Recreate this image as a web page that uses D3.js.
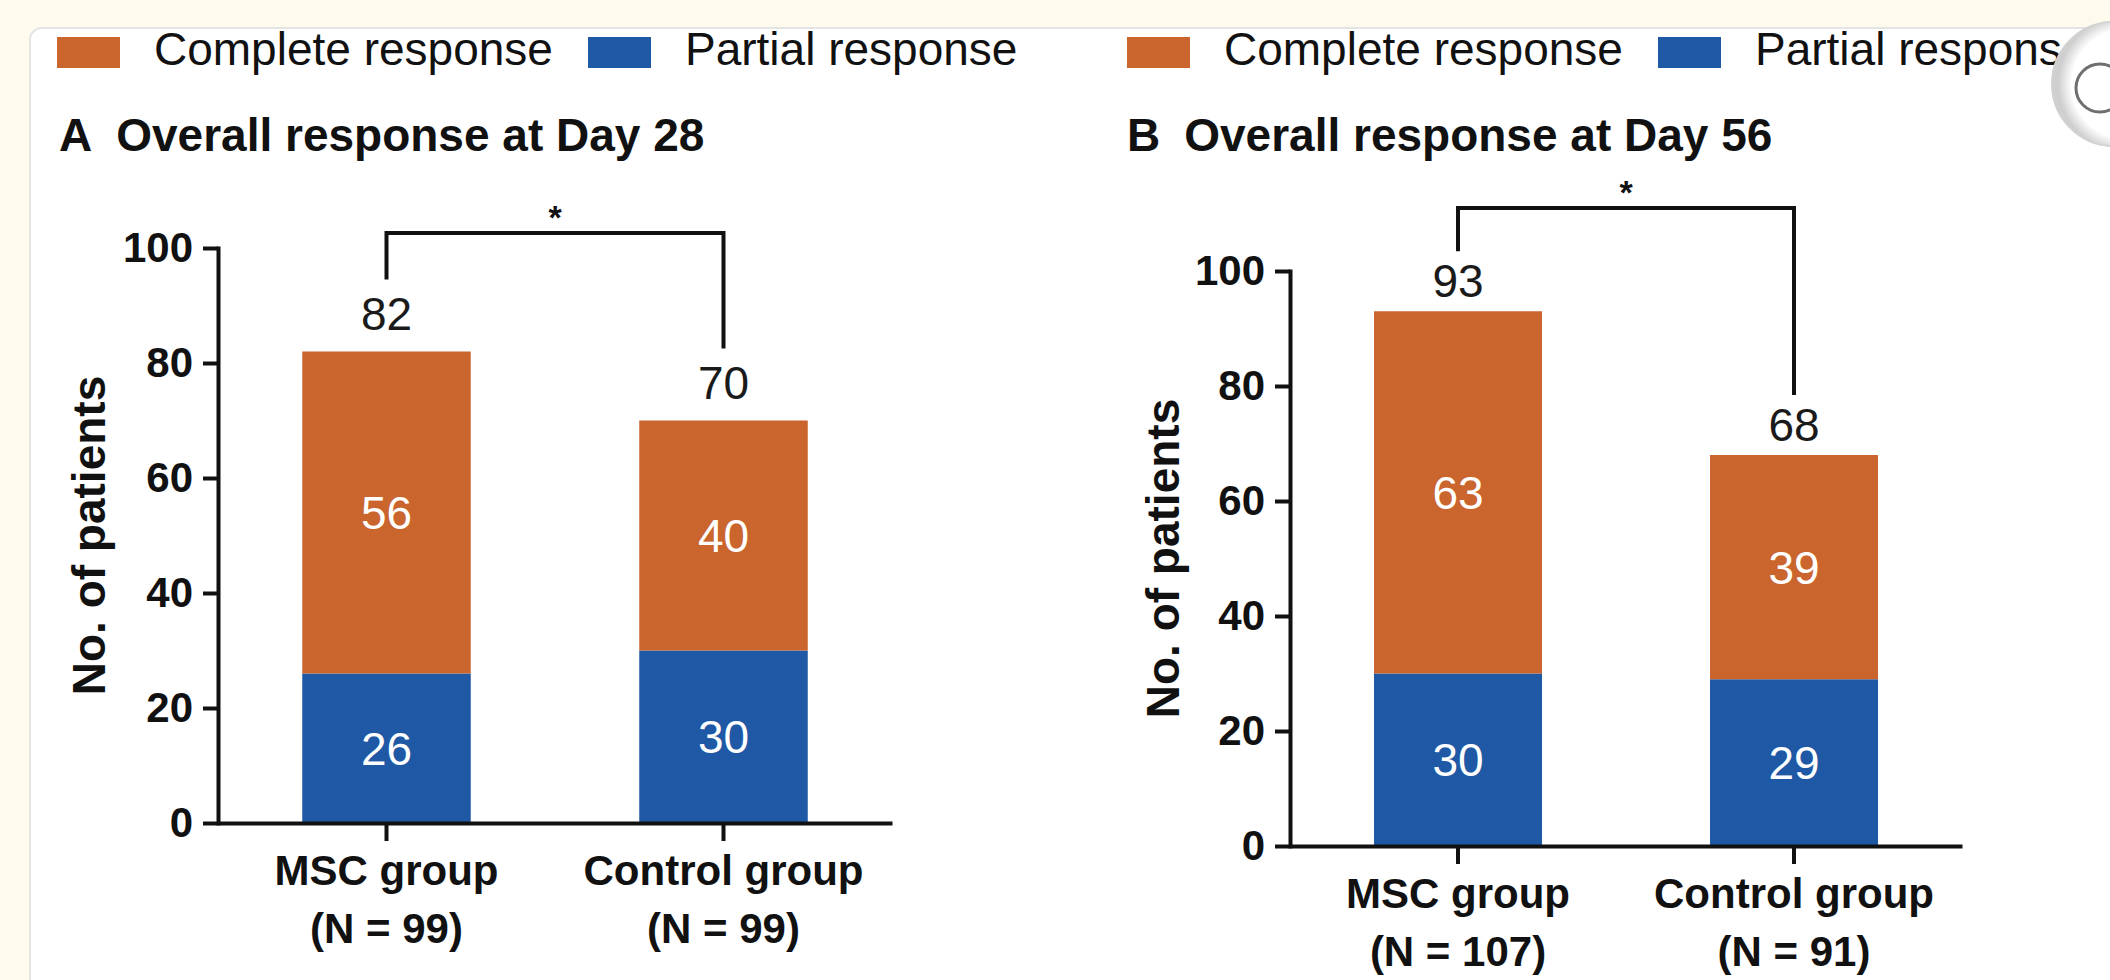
<!DOCTYPE html>
<html>
<head>
<meta charset="utf-8">
<script src="https://cdn.jsdelivr.net/npm/d3@7"></script>
<style>
  html, body { margin: 0; padding: 0; background: #fffaee; }
  svg { display: block; font-family: "Liberation Sans", Arial, Helvetica, sans-serif; }
</style>
</head>
<body>
<svg id="chart" width="2110" height="980"></svg>
<script>
// ---- data ----
const groups = ["MSC group", "Control group"];
const seriesNames = ["Complete response", "Partial response"];
const panelLetters = ["A", "B"];
const panelTitles = ["Overall response at Day 28", "Overall response at Day 56"];
const yTicks = [0, 20, 40, 60, 80, 100];
const yTitle = "No. of patients";
const significance = ["*", "*"];

const day28Partial = [26, 30];
const day28Complete = [56, 40];
const day28N = [99, 99];

const day56Partial = [30, 29];
const day56Complete = [63, 39];
const day56N = [107, 91];

// ---- styling ----
const colorComplete = "#c9652d";
const colorPartial = "#1f58a5";
const ink = "#111";

const svg = d3.select("#chart");

// white card on a cream page
svg.append("rect")
  .attr("x", 0).attr("y", 0).attr("width", 2110).attr("height", 980)
  .attr("fill", "#fffaee");
svg.append("rect")
  .attr("x", 30).attr("y", 28).attr("width", 2140).attr("height", 1000)
  .attr("rx", 12)
  .attr("fill", "#ffffff")
  .attr("stroke", "#e4e4e4").attr("stroke-width", 2);

const panels = [
  { letter: panelLetters[0], title: panelTitles[0], partial: day28Partial, complete: day28Complete, n: day28N, sig: significance[0],
    left: 218, right: 892, bottom: 823, top: 248, legendX: 57, titleX: 59, yTitleX: 89,
    bracketY: 233, legGap: 72, labelGap: 22 },
  { letter: panelLetters[1], title: panelTitles[1], partial: day56Partial, complete: day56Complete, n: day56N, sig: significance[1],
    left: 1290, right: 1962, bottom: 846, top: 271, legendX: 1127, titleX: 1127, yTitleX: 1163,
    bracketY: 208, legGap: 60, labelGap: 14 }
];

panels.forEach(p => {
  const g = svg.append("g");

  // legend
  const legendItems = [
    { name: seriesNames[0], color: colorComplete },
    { name: seriesNames[1], color: colorPartial }
  ];
  const lg = g.selectAll("g.legend").data(legendItems).join("g")
    .attr("class", "legend")
    .attr("transform", (d, i) => `translate(${p.legendX + i * 531},0)`);
  lg.append("rect").attr("x", 0).attr("y", 37).attr("width", 63).attr("height", 31)
    .attr("fill", d => d.color);
  lg.append("text").attr("x", 97).attr("y", 65)
    .attr("font-size", 46).attr("fill", ink).text(d => d.name);

  // panel title
  const t = g.append("text").attr("x", p.titleX).attr("y", 151)
    .attr("font-size", 46).attr("font-weight", "bold").attr("fill", ink);
  t.append("tspan").text(p.letter);
  t.append("tspan").attr("dx", 24).text(p.title);

  // scales
  const x = d3.scaleBand().domain(groups).range([p.left, p.right])
    .paddingInner(0.5).paddingOuter(0.25);
  const y = d3.scaleLinear().domain([0, 100]).range([p.bottom, p.top]);

  const rows = groups.map((gName, i) => ({
    group: gName, partial: p.partial[i], complete: p.complete[i], n: p.n[i]
  }));
  const stack = d3.stack().keys(["partial", "complete"])(rows);
  const colors = { partial: colorPartial, complete: colorComplete };

  // stacked bars
  stack.forEach(layer => {
    g.selectAll(null).data(layer).join("rect")
      .attr("x", d => x(d.data.group))
      .attr("width", x.bandwidth())
      .attr("y", d => y(d[1]))
      .attr("height", d => y(d[0]) - y(d[1]))
      .attr("fill", colors[layer.key]);
    // segment values
    g.selectAll(null).data(layer).join("text")
      .attr("x", d => x(d.data.group) + x.bandwidth() / 2)
      .attr("y", d => y((d[0] + d[1]) / 2))
      .attr("dy", "0.36em")
      .attr("text-anchor", "middle")
      .attr("font-size", 46)
      .attr("fill", "#ffffff")
      .text(d => d[1] - d[0]);
  });

  // totals above bars
  g.selectAll(null).data(rows).join("text")
    .attr("x", d => x(d.group) + x.bandwidth() / 2)
    .attr("y", d => y(d.partial + d.complete) - p.labelGap)
    .attr("text-anchor", "middle")
    .attr("font-size", 46)
    .attr("fill", "#1a1a1a")
    .text(d => d.partial + d.complete);

  // axes
  const yAxis = g.append("g").attr("transform", `translate(${p.left},0)`)
    .call(d3.axisLeft(y).tickValues(yTicks).tickSize(15).tickSizeOuter(0).tickPadding(10));
  yAxis.selectAll("text").attr("font-size", 42).attr("font-weight", "bold")
    .attr("fill", ink).attr("font-family", "Liberation Sans, Arial, sans-serif");

  const xAxis = g.append("g").attr("transform", `translate(0,${p.bottom})`)
    .call(d3.axisBottom(x).tickSize(18).tickSizeOuter(0).tickFormat(""));

  [yAxis, xAxis].forEach(ax => {
    ax.select(".domain").attr("stroke", ink).attr("stroke-width", 4);
    ax.selectAll(".tick line").attr("stroke", ink).attr("stroke-width", 4);
  });
  yAxis.select(".domain").attr("stroke-linecap", "square");

  // two-line category labels
  const cat = g.selectAll(null).data(rows).join("text")
    .attr("x", d => x(d.group) + x.bandwidth() / 2)
    .attr("y", p.bottom + 62)
    .attr("text-anchor", "middle")
    .attr("font-size", 42).attr("font-weight", "bold").attr("fill", ink);
  cat.append("tspan").text(d => d.group);
  cat.append("tspan")
    .attr("x", d => x(d.group) + x.bandwidth() / 2)
    .attr("dy", 58)
    .text(d => `(N = ${d.n})`);

  // y-axis title
  g.append("text")
    .attr("transform", `translate(${p.yTitleX},${(y(0) + y(100)) / 2}) rotate(-90)`)
    .attr("text-anchor", "middle")
    .attr("dy", "0.35em")
    .attr("font-size", 46).attr("font-weight", "bold").attr("fill", ink)
    .text(yTitle);

  // significance bracket between the two groups
  const cx0 = x(groups[0]) + x.bandwidth() / 2;
  const cx1 = x(groups[1]) + x.bandwidth() / 2;
  const t0 = y(rows[0].partial + rows[0].complete) - p.legGap;
  const t1 = y(rows[1].partial + rows[1].complete) - p.legGap;
  g.append("path")
    .attr("d", `M${cx0},${t0}V${p.bracketY}H${cx1}V${t1}`)
    .attr("fill", "none").attr("stroke", ink).attr("stroke-width", 4);
  g.append("text")
    .attr("x", (cx0 + cx1) / 2)
    .attr("y", p.bracketY - 4)
    .attr("text-anchor", "middle")
    .attr("font-size", 34).attr("font-weight", "bold").attr("fill", ink)
    .text(p.sig);
});

// round control button at the right edge
const btn = svg.append("g");
const grad = svg.append("defs").append("radialGradient").attr("id", "btnShade")
  .attr("cx", "60%").attr("cy", "50%").attr("r", "55%");
grad.append("stop").attr("offset", "80%").attr("stop-color", "#ffffff");
grad.append("stop").attr("offset", "100%").attr("stop-color", "#cfcfcf");
btn.append("circle").attr("cx", 2114).attr("cy", 84).attr("r", 62)
  .attr("fill", "url(#btnShade)").attr("stroke", "#d2d2d2").attr("stroke-width", 2);
btn.append("circle").attr("cx", 2100).attr("cy", 88).attr("r", 24)
  .attr("fill", "none").attr("stroke", "#6f6f6f").attr("stroke-width", 3);
</script>
</body>
</html>
